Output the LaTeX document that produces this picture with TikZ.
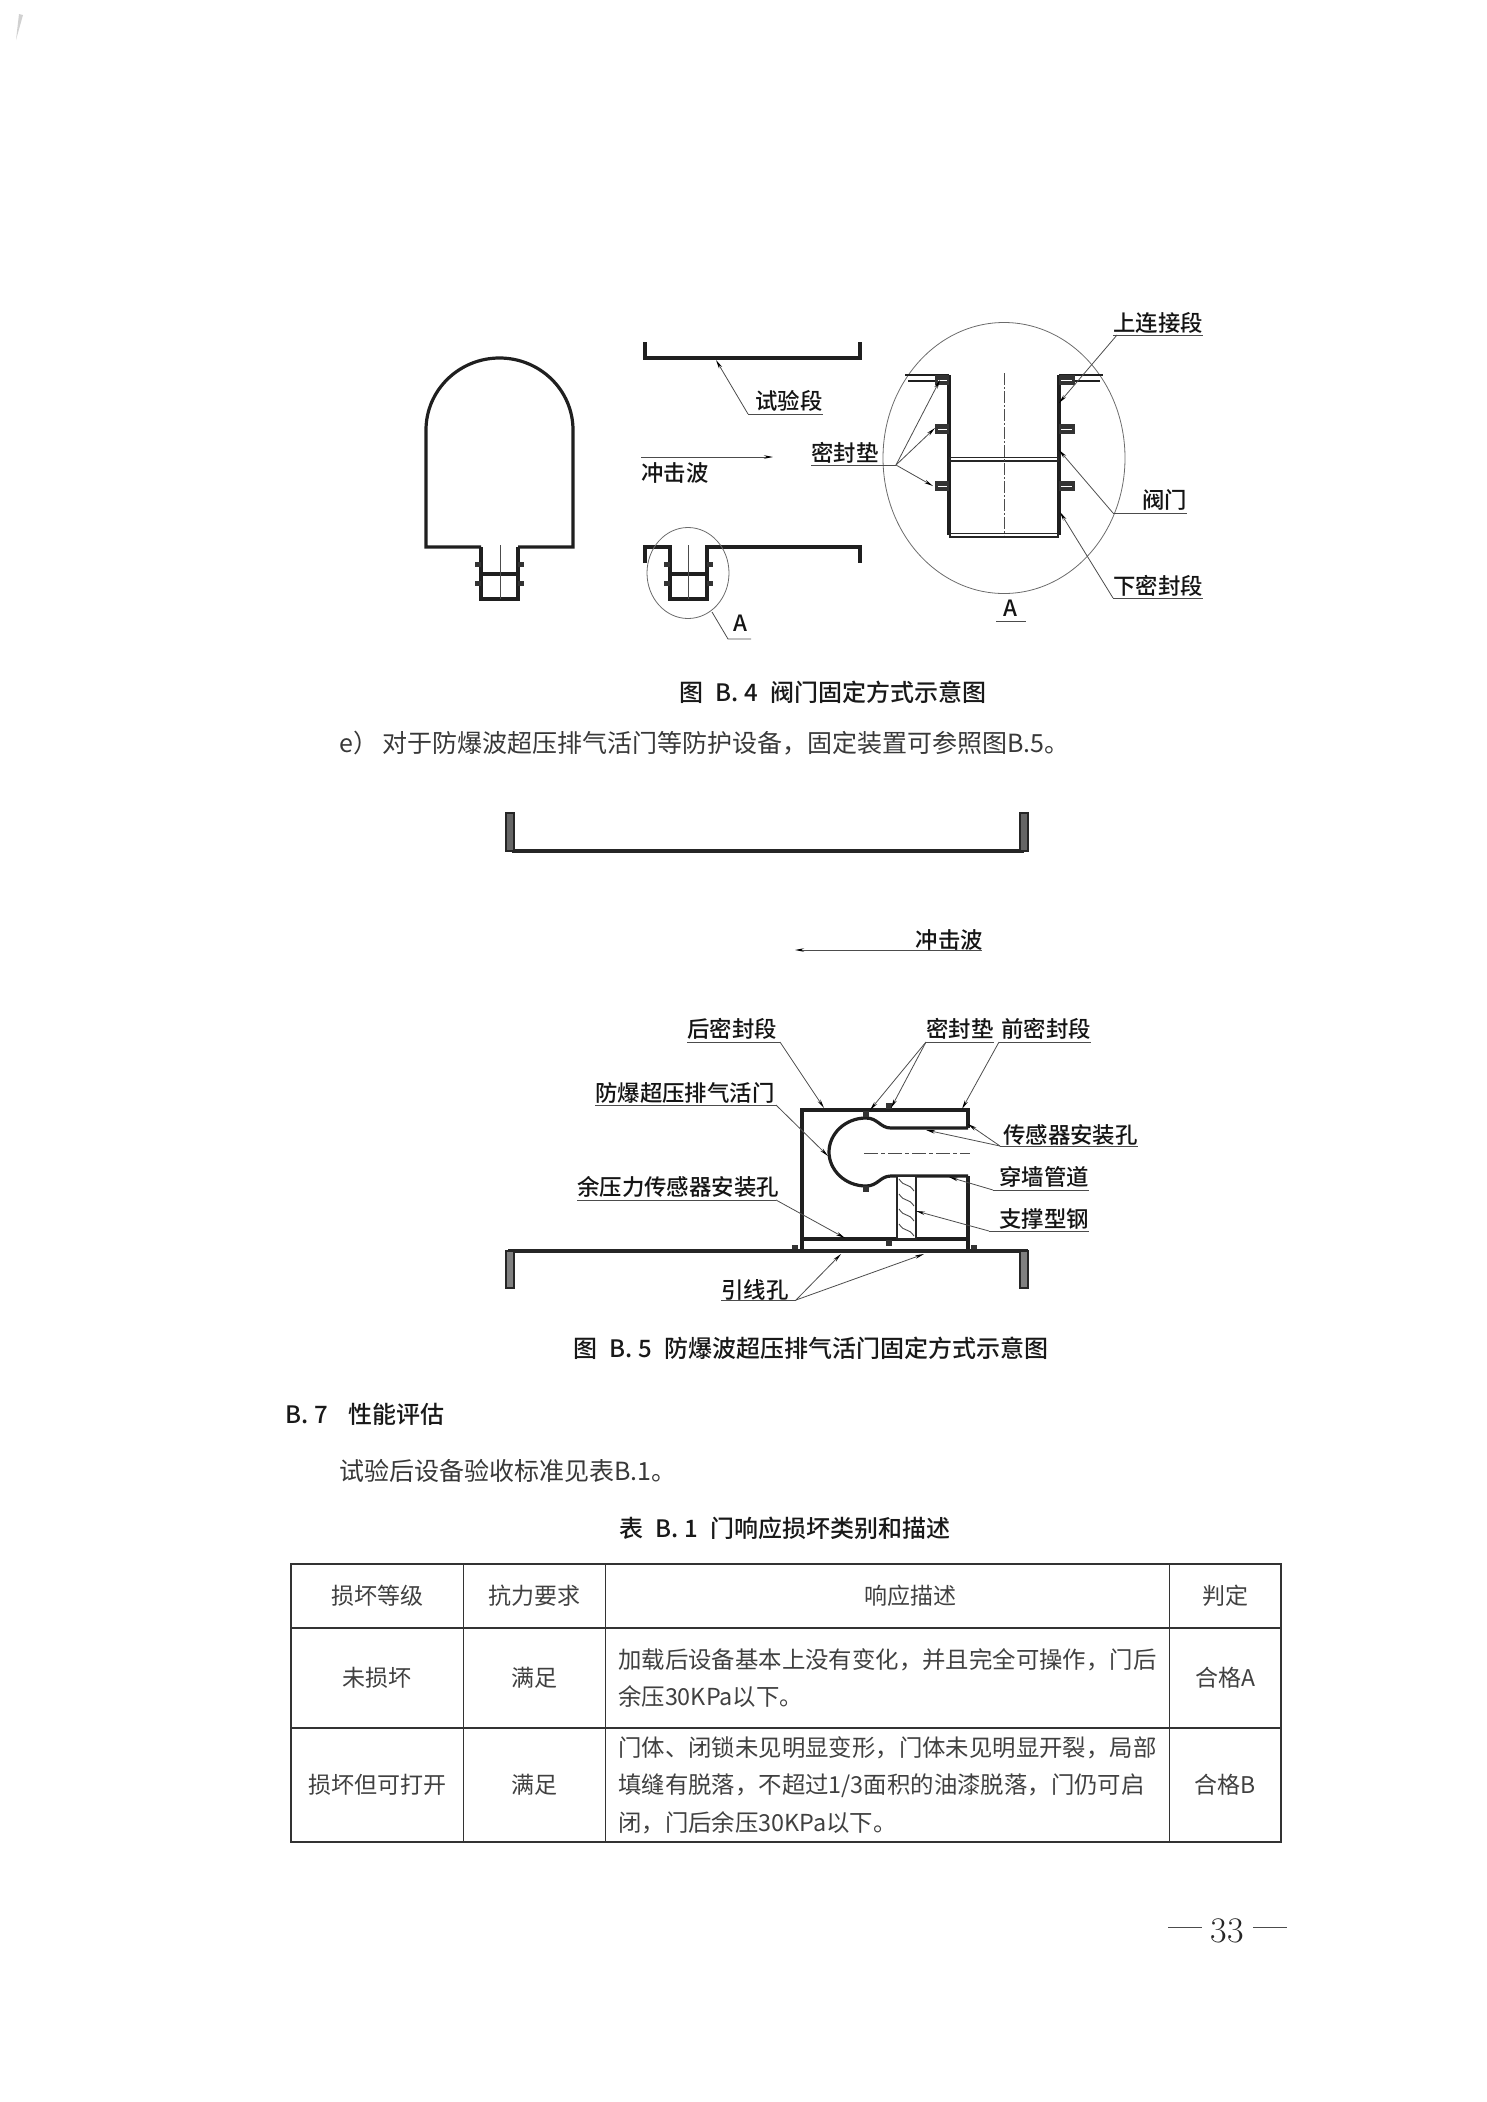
\documentclass[tikz,border=0pt]{standalone}
\usepackage{fontspec}
\newfontfamily\cjk{Noto Sans CJK SC}
\newfontfamily\cjkm{Noto Sans CJK SC Medium}
\usetikzlibrary{
  arrows.meta, calc
}

\begin{document}
\begin{tikzpicture}[
  x=1pt, y=-1pt,
  wall/.style={line width=3.2pt, black!88, line join=miter},
  dbl/.style={line width=5pt, black!85},
  lug/.style={fill=black!80, draw=none},
  centre/.style={line width=0.7pt, black!70, dash pattern=on 12pt off 2pt on 2pt off 2pt},
  leader/.style={line width=0.8pt, black!70},
  tip/.style={leader, -{Stealth[length=9pt, width=3.5pt, black]}},
  bubble/.style={line width=0.8pt, black!58},
  lab/.style={font=\fontsize{22.4}{26}\selectfont\cjkm, text=black!92, inner sep=0pt},
  head/.style={font=\fontsize{24}{28}\selectfont\cjkm, text=black!90, inner sep=0pt},
  para/.style={font=\fontsize{25}{30}\selectfont\cjk, text=black!78, inner sep=0pt, anchor=west},
  body/.style={font=\fontsize{23.4}{37.5}\selectfont\cjk, text=black!75, inner sep=0pt, anchor=west, align=left},
  cell/.style={font=\fontsize{23}{30}\selectfont\cjk, text=black!75, inner sep=0pt},
  rule/.style={line width=1.1pt, black!80}
]
  \useasboundingbox (0,0) rectangle (1487,2102);

  % scan mark
  \fill[black!18] (19,14) -- (23,15) -- (16,40) -- cycle;

  % dome
  \draw[wall] (481,547) -- (426,547) -- (426,430)
    arc[start angle=180, end angle=360, x radius=73.5, y radius=72]
    -- (573,547) -- (518,547);
  \draw[wall] (481,547) -- (481,599) -- (518,599) -- (518,547);
  \draw[wall] (481,574) -- (518,574);
  \draw[leader] (500,545) -- (500,599);
  \foreach \yy in {564,583} {
    \fill[lug] (475,\yy-2.5) rectangle (481,\yy+2.5);
    \fill[lug] (518,\yy-2.5) rectangle (524,\yy+2.5);
  }

  % test section
  \draw[wall] (645,342) -- (645,358) -- (860,358) -- (860,342);
  \draw[wall] (645,563) -- (645,547) -- (670,547) -- (670,599) -- (707,599) -- (707,547) -- (860,547) -- (860,563);
  \draw[wall] (670,574) -- (707,574);
  \draw[leader] (688,545) -- (688,599);
  \foreach \yy in {564,583} {
    \fill[lug] (664,\yy-2.5) rectangle (670,\yy+2.5);
    \fill[lug] (707,\yy-2.5) rectangle (713,\yy+2.5);
  }
  \draw[bubble] (688,573) ellipse [x radius=41, y radius=45.5];

  % detail A
  \draw[bubble] (1004,458) ellipse [x radius=121, y radius=135.5];
  \draw[wall] (949,375) -- (949,535);
  \draw[wall] (1059,375) -- (1059,535);
  \draw[dbl] (949,459) -- (1059,459);
  \draw[dbl] (949,535) -- (1059,535);
  \draw[white, line width=1.5pt] (951,459) -- (1057,459);
  \draw[white, line width=1.5pt] (951,535) -- (1057,535);
  \draw[wall, line width=2pt] (905,375) -- (949,375);
  \draw[wall, line width=2pt] (908,381) -- (949,381);
  \draw[wall, line width=2pt] (1059,375) -- (1103,375);
  \draw[wall, line width=2pt] (1059,381) -- (1100,381);
  \foreach \yy in {380,429,486} {
    \fill[lug] (935,\yy-5) rectangle (949,\yy+5);
    \fill[lug] (1059,\yy-5) rectangle (1075,\yy+5);
    \draw[white, line width=0.8pt] (938,\yy) -- (947,\yy);
    \draw[white, line width=0.8pt] (1061,\yy) -- (1072,\yy);
  }
  \draw[centre] (1004,373) -- (1004,535);

  \node[lab, anchor=west] (trial) at (755,401) {试验段};
  \coordinate (trialj) at (748,414);
  \coordinate (trialt) at (716,360);
  \draw[leader] (trial.east |- trialj) -- (trialj);
  \draw[tip] (trialj) -- (trialt);

  \node[lab, anchor=west] (wavea) at (641,473) {冲击波};
  \coordinate (waveas) at (641,457);
  \coordinate (waveat) at (773,457);
  \draw[tip] (waveas) -- (waveat);

  \node[lab, anchor=west] (gasket) at (811,453) {密封垫};
  \coordinate (gasketj) at (896,465);
  \coordinate (gaskett1) at (940,380);
  \coordinate (gaskett2) at (935,428);
  \coordinate (gaskett3) at (933,486);
  \draw[leader] (gasket.west |- gasketj) -- (gasketj);
  \path[tip] (gasketj) edge (gaskett1) edge (gaskett2) edge (gaskett3);

  \node[lab, anchor=west] (upper) at (1113,323) {上连接段};
  \coordinate (upperj) at (1117,335);
  \coordinate (uppert) at (1059,403);
  \draw[leader] (upper.west |- upperj) -- (upper.east |- upperj);
  \draw[tip] (upperj) -- (uppert);

  \node[lab, anchor=west] (valve) at (1142,500) {阀门};
  \coordinate (valvej) at (1113,513);
  \coordinate (valvet) at (1059,450);
  \draw[leader] (valvej) -- (valve.east |- valvej);
  \draw[tip] (valvej) -- (valvet);

  \node[lab, anchor=west] (lower) at (1113,586) {下密封段};
  \coordinate (lowerj) at (1113,598);
  \coordinate (lowert) at (1060,512);
  \draw[leader] (lowerj) -- (lower.east |- lowerj);
  \draw[tip] (lowerj) -- (lowert);

  \node[lab] (a1) at (1010,608) {A};
  \coordinate (a1l) at (996,621);
  \coordinate (a1r) at (1026,621);
  \draw[leader] (a1l) -- (a1r);

  \node[lab] (a2) at (740,623) {A};
  \coordinate (a2j) at (728,639);
  \coordinate (a2r) at (751,639);
  \coordinate (a2t) at (712,612);
  \draw[leader] (a2t) -- (a2j) -- (a2r);

  \node[head] (capa) at (833,692) {图\hspace{12pt}B.\hspace{6pt}4\hspace{12pt}阀门固定方式示意图};
  \node[para] (linee) at (339,743) {e）\,对于防爆波超压排气活门等防护设备，固定装置可参照图B.5。};

  % upper duct
  \draw[line width=4pt, black!85] (512,851) -- (1024,851);
  \foreach \xx in {510,1024} {
    \draw[line width=2pt, black!85, fill=black!60] (\xx-4,813) rectangle (\xx+4,851);
  }

  \node[lab, anchor=east] (waveb) at (983,940) {冲击波};
  \coordinate (wavebs) at (982,950);
  \coordinate (wavebt) at (795,950);
  \draw[tip] (wavebs) -- (wavebt);

  % valve box
  \draw[wall] (968,1128) -- (968,1110) -- (802,1110) -- (802,1252);
  \draw[wall] (968,1176) -- (968,1252);
  \draw[wall] (802,1239) -- (968,1239);
  \draw[wall] (968,1128) -- (891,1128)
    .. controls (880,1128) and (878,1118) .. (866,1118)
    .. controls (845,1118) and (829,1134) .. (829,1152)
    .. controls (829,1170) and (845,1186) .. (866,1186)
    .. controls (878,1186) and (880,1176) .. (891,1176)
    -- (968,1176);
  \draw[line width=2.4pt, black!85, fill=white] (897,1176) rectangle (916,1239);
  \foreach \yy in {1176,1191,1206,1221} {
    \draw[line width=0.9pt, black!70] (899,\yy+3) .. controls (905,\yy+12) and (908,\yy+6) .. (914,\yy+15);
  }
  \draw[centre, dash pattern=on 14pt off 3pt on 4pt off 3pt] (864,1153) -- (970,1153);
  \foreach \xx/\yy in {866/1114,866/1189,889/1106,889/1243,795/1248,974/1248} {
    \fill[lug] (\xx-3,\yy-3) rectangle (\xx+3,\yy+3);
  }

  % lower duct
  \draw[line width=4pt, black!85] (508,1251) -- (1028,1251);
  \foreach \xx in {510,1024} {
    \draw[line width=2pt, black!85, fill=black!50] (\xx-4,1251) rectangle (\xx+4,1288);
  }

  \node[lab, anchor=west] (rear) at (687,1029) {后密封段};
  \coordinate (rearj) at (780,1042);
  \coordinate (reart) at (824,1108);
  \draw[leader] (rear.west |- rearj) -- (rearj);
  \draw[tip] (rearj) -- (reart);

  \node[lab, anchor=west] (seal) at (926,1029) {密封垫};
  \coordinate (sealj) at (926,1042);
  \coordinate (sealt1) at (870,1110);
  \coordinate (sealt2) at (891,1108);
  \draw[leader] (sealj) -- (seal.east |- sealj);
  \path[tip] (sealj) edge (sealt1) edge (sealt2);

  \node[lab, anchor=west] (front) at (1001,1029) {前密封段};
  \coordinate (frontj) at (999,1042);
  \coordinate (frontt) at (962,1109);
  \draw[leader] (frontj) -- (front.east |- frontj);
  \draw[tip] (frontj) -- (frontt);

  \node[lab, anchor=west] (vent) at (595,1093) {防爆超压排气活门};
  \coordinate (ventj) at (776,1105);
  \coordinate (ventt) at (828,1156);
  \draw[leader] (vent.west |- ventj) -- (ventj);
  \draw[tip] (ventj) -- (ventt);

  \node[lab, anchor=west] (rest) at (577,1187) {余压力传感器安装孔};
  \coordinate (restj) at (776,1200);
  \coordinate (restt) at (845,1238);
  \draw[leader] (rest.west |- restj) -- (restj);
  \draw[tip] (restj) -- (restt);

  \node[lab, anchor=west] (sensor) at (1003,1135) {传感器安装孔};
  \coordinate (sensorj) at (1000,1146);
  \coordinate (sensort1) at (968,1124);
  \coordinate (sensort2) at (926,1130);
  \draw[leader] (sensorj) -- (sensor.east |- sensorj);
  \path[tip] (sensorj) edge (sensort1) edge (sensort2);

  \node[lab, anchor=west] (pipe) at (999,1177) {穿墙管道};
  \coordinate (pipej) at (993,1190);
  \coordinate (pipet) at (949,1177);
  \draw[leader] (pipej) -- (pipe.east |- pipej);
  \draw[tip] (pipej) -- (pipet);

  \node[lab, anchor=west] (steel) at (999,1219) {支撑型钢};
  \coordinate (steelj) at (989,1231);
  \coordinate (steelt) at (916,1211);
  \draw[leader] (steelj) -- (steel.east |- steelj);
  \draw[tip] (steelj) -- (steelt);

  \node[lab, anchor=west] (wire) at (721,1290) {引线孔};
  \coordinate (wirej) at (796,1300);
  \coordinate (wiret1) at (841,1254);
  \coordinate (wiret2) at (924,1254);
  \draw[leader] (wire.west |- wirej) -- (wirej);
  \path[tip] (wirej) edge (wiret1) edge (wiret2);

  \node[head] (capb) at (811,1348) {图\hspace{12pt}B.\hspace{6pt}5\hspace{12pt}防爆波超压排气活门固定方式示意图};

  \node[head, anchor=west] (secb) at (285,1414) {B.\hspace{6pt}7\hspace{20pt}性能评估};
  \node[para] (acc) at (339,1471) {试验后设备验收标准见表B.1。};
  \node[head] (capt) at (785,1528) {表\hspace{12pt}B.\hspace{6pt}1\hspace{12pt}门响应损坏类别和描述};

  % table
  \draw[rule] (291,1564) rectangle (1281,1842);
  \foreach \xx in {463,605,1169} {
    \draw[rule, line width=0.9pt] (\xx,1564) -- (\xx,1842);
  }
  \foreach \yy in {1628,1728} {
    \draw[rule] (291,\yy) -- (1281,\yy);
  }
  \node[cell] (h1) at (377,1596) {损坏等级};
  \node[cell] (h2) at (534,1596) {抗力要求};
  \node[cell] (h3) at (910,1596) {响应描述};
  \node[cell] (h4) at (1225,1596) {判定};
  \node[cell] (r1a) at (377,1678) {未损坏};
  \node[cell] (r1b) at (534,1678) {满足};
  \node[body] (r1c) at (618,1678) {加载后设备基本上没有变化，并且完全可操作，门后\\余压30KPa以下。};
  \node[cell] (r1d) at (1225,1678) {合格A};
  \node[cell] (r2a) at (377,1785) {损坏但可打开};
  \node[cell] (r2b) at (534,1785) {满足};
  \node[body] (r2c) at (618,1785) {门体、闭锁未见明显变形，门体未见明显开裂，局部\\填缝有脱落，不超过1/3面积的油漆脱落，门仍可启\\闭，门后余压30KPa以下。};
  \node[cell] (r2d) at (1225,1785) {合格B};

  % page number
  \node[font=\fontsize{36}{40}\selectfont\rmfamily, text=black!85, inner sep=0pt] (page) at (1227,1931) {33};
  \coordinate (pl1) at (1168,1927);
  \coordinate (pl2) at (1202,1927);
  \coordinate (pr1) at (1253,1927);
  \coordinate (pr2) at (1287,1927);
  \draw[leader, line width=1pt] (pl1) -- (pl2);
  \draw[leader, line width=1pt] (pr1) -- (pr2);
\end{tikzpicture}
\end{document}
